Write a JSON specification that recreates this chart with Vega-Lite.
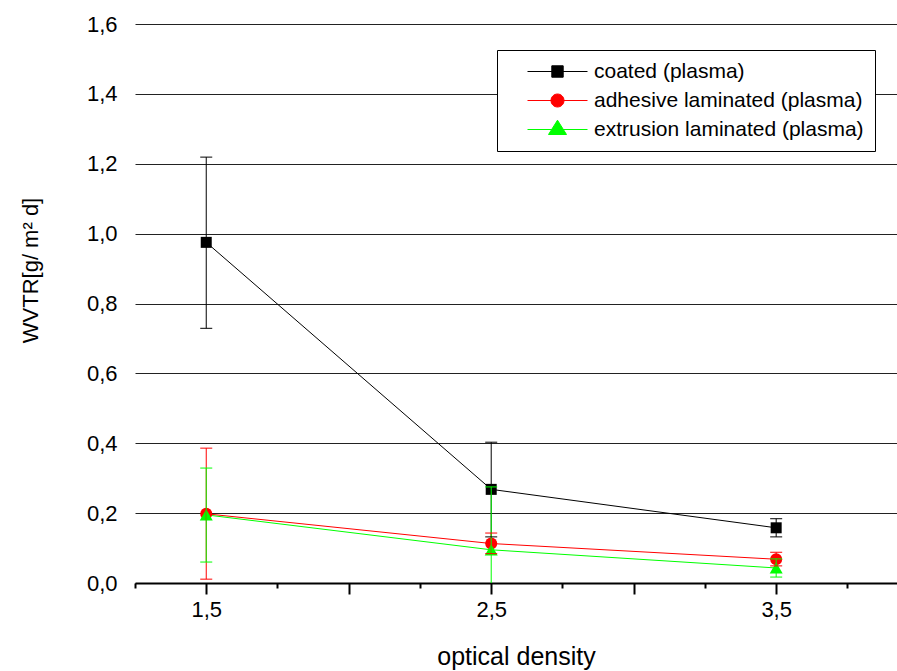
{
  "$schema": "https://vega.github.io/schema/vega-lite/v6.json",
  "width": 762,
  "height": 559,
  "autosize": "none",
  "padding": {"left": 135, "top": 24, "right": 0, "bottom": 88},
  "background": "white",
  "config": {
    "view": {"stroke": null},
    "font": "Liberation Sans",
    "axis": {"labelFont": "Liberation Sans", "titleFont": "Liberation Sans", "labelColor": "#000", "titleColor": "#000", "titleFontWeight": "normal"}
  },
  "resolve": {"scale": {"color": "independent", "shape": "independent", "size": "independent", "fill": "independent", "stroke": "independent"}, "axis": {"x": "independent"}},
  "data": {
    "values": [
      {"od": 1.5, "series": "coated (plasma)", "wvtr": 0.975, "lo": 0.729, "hi": 1.219},
      {"od": 2.5, "series": "coated (plasma)", "wvtr": 0.268, "lo": 0.132, "hi": 0.403},
      {"od": 3.5, "series": "coated (plasma)", "wvtr": 0.158, "lo": 0.132, "hi": 0.184},
      {"od": 1.5, "series": "adhesive laminated (plasma)", "wvtr": 0.198, "lo": 0.011, "hi": 0.386},
      {"od": 2.5, "series": "adhesive laminated (plasma)", "wvtr": 0.113, "lo": 0.084, "hi": 0.143},
      {"od": 3.5, "series": "adhesive laminated (plasma)", "wvtr": 0.068, "lo": 0.049, "hi": 0.088},
      {"od": 1.5, "series": "extrusion laminated (plasma)", "wvtr": 0.195, "lo": 0.06, "hi": 0.329},
      {"od": 2.5, "series": "extrusion laminated (plasma)", "wvtr": 0.095, "lo": -0.085, "hi": 0.275},
      {"od": 3.5, "series": "extrusion laminated (plasma)", "wvtr": 0.043, "lo": 0.017, "hi": 0.069}
    ]
  },
  "layer": [
    {
      "mark": {"type": "line", "strokeWidth": 1, "clip": true},
      "encoding": {
        "x": {"field": "od", "type": "quantitative", "scale": {"domain": [1.25, 3.924], "nice": false, "zero": false},
          "axis": {
            "orient": "bottom",
            "title": "optical density",
            "values": [1.5, 2.0, 2.5, 3.0, 3.5],
            "labelExpr": "indexof([1.5, 2.5, 3.5], datum.value) >= 0 ? replace(format(datum.value, '.1f'), '.', ',') : ''",
            "grid": false,
            "domainColor": "#000", "domainWidth": 2,
            "tickColor": "#000", "tickWidth": 2, "tickSize": 11,
            "labelFontSize": 22, "labelPadding": 5, "labelFlush": false, "labelOverlap": false,
            "titleFontSize": 25, "titleY": 81, "titleBaseline": "alphabetic", "titleAlign": "center"
          }
        },
        "y": {"field": "wvtr", "type": "quantitative", "scale": {"domain": [0, 1.6], "nice": false},
          "axis": {
            "title": "WVTR[g/ m² d]",
            "values": [0, 0.2, 0.4, 0.6, 0.8, 1.0, 1.2, 1.4, 1.6],
            "labelExpr": "replace(format(datum.value, '.1f'), '.', ',')",
            "domain": false, "ticks": false,
            "grid": true, "gridColor": "#222", "gridWidth": 1, "gridOpacity": 1,
            "labelFontSize": 22, "labelPadding": 18,
            "titleFontSize": 22, "titleX": -98, "titleY": 246, "titleAngle": -90, "titleBaseline": "alphabetic", "titleAlign": "center"
          }
        },
        "color": {"field": "series", "type": "nominal",
          "scale": {"domain": ["coated (plasma)", "adhesive laminated (plasma)", "extrusion laminated (plasma)"], "range": ["#000000", "#ff0000", "#00ff00"]},
          "legend": null},
        "order": {"field": "od", "type": "quantitative"}
      }
    },
    {
      "mark": {"type": "point", "filled": true, "opacity": 1, "clip": true},
      "encoding": {
        "x": {"field": "od", "type": "quantitative", "axis": null},
        "y": {"field": "wvtr", "type": "quantitative"},
        "color": {"field": "series", "type": "nominal",
          "scale": {"domain": ["coated (plasma)", "adhesive laminated (plasma)", "extrusion laminated (plasma)"], "range": ["#000000", "#ff0000", "#00ff00"]},
          "legend": null},
        "shape": {"field": "series", "type": "nominal",
          "scale": {"domain": ["coated (plasma)", "adhesive laminated (plasma)", "extrusion laminated (plasma)"], "range": ["square", "circle", "triangle-up"]},
          "legend": null},
        "size": {"field": "series", "type": "ordinal",
          "scale": {"domain": ["coated (plasma)", "adhesive laminated (plasma)", "extrusion laminated (plasma)"], "range": [121, 169, 250]},
          "legend": null}
      }
    },
    {
      "mark": {"type": "rule", "strokeWidth": 1, "clip": true},
      "encoding": {
        "x": {"field": "od", "type": "quantitative", "axis": null},
        "y": {"field": "lo", "type": "quantitative"},
        "y2": {"field": "hi"},
        "color": {"field": "series", "type": "nominal",
          "scale": {"domain": ["coated (plasma)", "adhesive laminated (plasma)", "extrusion laminated (plasma)"], "range": ["#000000", "#ff0000", "#00ff00"]},
          "legend": null}
      }
    },
    {
      "mark": {"type": "tick", "orient": "horizontal", "size": 12, "thickness": 1, "clip": true, "opacity": 1},
      "encoding": {
        "x": {"field": "od", "type": "quantitative", "axis": null},
        "y": {"field": "lo", "type": "quantitative"},
        "color": {"field": "series", "type": "nominal",
          "scale": {"domain": ["coated (plasma)", "adhesive laminated (plasma)", "extrusion laminated (plasma)"], "range": ["#000000", "#ff0000", "#00ff00"]},
          "legend": null}
      }
    },
    {
      "mark": {"type": "tick", "orient": "horizontal", "size": 12, "thickness": 1, "clip": true, "opacity": 1},
      "encoding": {
        "x": {"field": "od", "type": "quantitative", "axis": null},
        "y": {"field": "hi", "type": "quantitative"},
        "color": {"field": "series", "type": "nominal",
          "scale": {"domain": ["coated (plasma)", "adhesive laminated (plasma)", "extrusion laminated (plasma)"], "range": ["#000000", "#ff0000", "#00ff00"]},
          "legend": null}
      }
    },
    {
      "transform": [{"filter": "datum.od > 100"}],
      "mark": {"type": "point", "filled": true, "opacity": 1},
      "encoding": {
        "x": {"field": "od", "type": "quantitative",
          "axis": {
            "orient": "bottom",
            "title": null, "values": [1.25, 1.75, 2.25, 2.75, 3.25, 3.75],
            "labels": false, "domain": false, "grid": false,
            "tickColor": "#000", "tickWidth": 2, "tickSize": 5
          }
        },
        "y": {"field": "wvtr", "type": "quantitative"},
        "fill": {"field": "series", "type": "nominal",
          "scale": {"domain": ["coated (plasma)", "adhesive laminated (plasma)", "extrusion laminated (plasma)"], "range": ["#000000", "#ff0000", "#00ff00"]},
          "legend": {
            "title": null, "orient": "none", "legendX": 362, "legendY": 26,
            "padding": 11, "strokeColor": "#000", "fillColor": "#fff",
            "symbolSize": 400, "symbolStrokeWidth": 1, "symbolOffset": 39, "labelOffset": 26, "rowPadding": 7,
            "labelFont": "Liberation Sans", "labelFontSize": 21, "labelLimit": 0, "labelColor": "#000"
          }},
        "stroke": {"field": "series", "type": "nominal",
          "scale": {"domain": ["coated (plasma)", "adhesive laminated (plasma)", "extrusion laminated (plasma)"], "range": ["#000000", "#ff0000", "#00ff00"]},
          "legend": {
            "title": null, "orient": "none", "legendX": 362, "legendY": 26,
            "padding": 11, "strokeColor": "#000", "fillColor": "#fff",
            "symbolSize": 400, "symbolStrokeWidth": 1, "symbolOffset": 39, "labelOffset": 26, "rowPadding": 7,
            "labelFont": "Liberation Sans", "labelFontSize": 21, "labelLimit": 0, "labelColor": "#000"
          }},
        "shape": {"field": "series", "type": "nominal",
          "scale": {"domain": ["coated (plasma)", "adhesive laminated (plasma)", "extrusion laminated (plasma)"],
            "range": ["M-3,0H3M-0.57,-0.57H0.57V0.57H-0.57Z", "M-3,0H-0.65A0.65,0.65 0 1,1 0.65,0A0.65,0.65 0 1,1 -0.65,0M0.65,0H3", "M-3,0H3M0,-0.93L0.9,0.5H-0.9Z"]},
          "legend": {
            "title": null, "orient": "none", "legendX": 362, "legendY": 26,
            "padding": 11, "strokeColor": "#000", "fillColor": "#fff",
            "symbolSize": 400, "symbolStrokeWidth": 1, "symbolOffset": 39, "labelOffset": 26, "rowPadding": 7,
            "labelFont": "Liberation Sans", "labelFontSize": 21, "labelLimit": 0, "labelColor": "#000"
          }}
      }
    }
  ]
}
